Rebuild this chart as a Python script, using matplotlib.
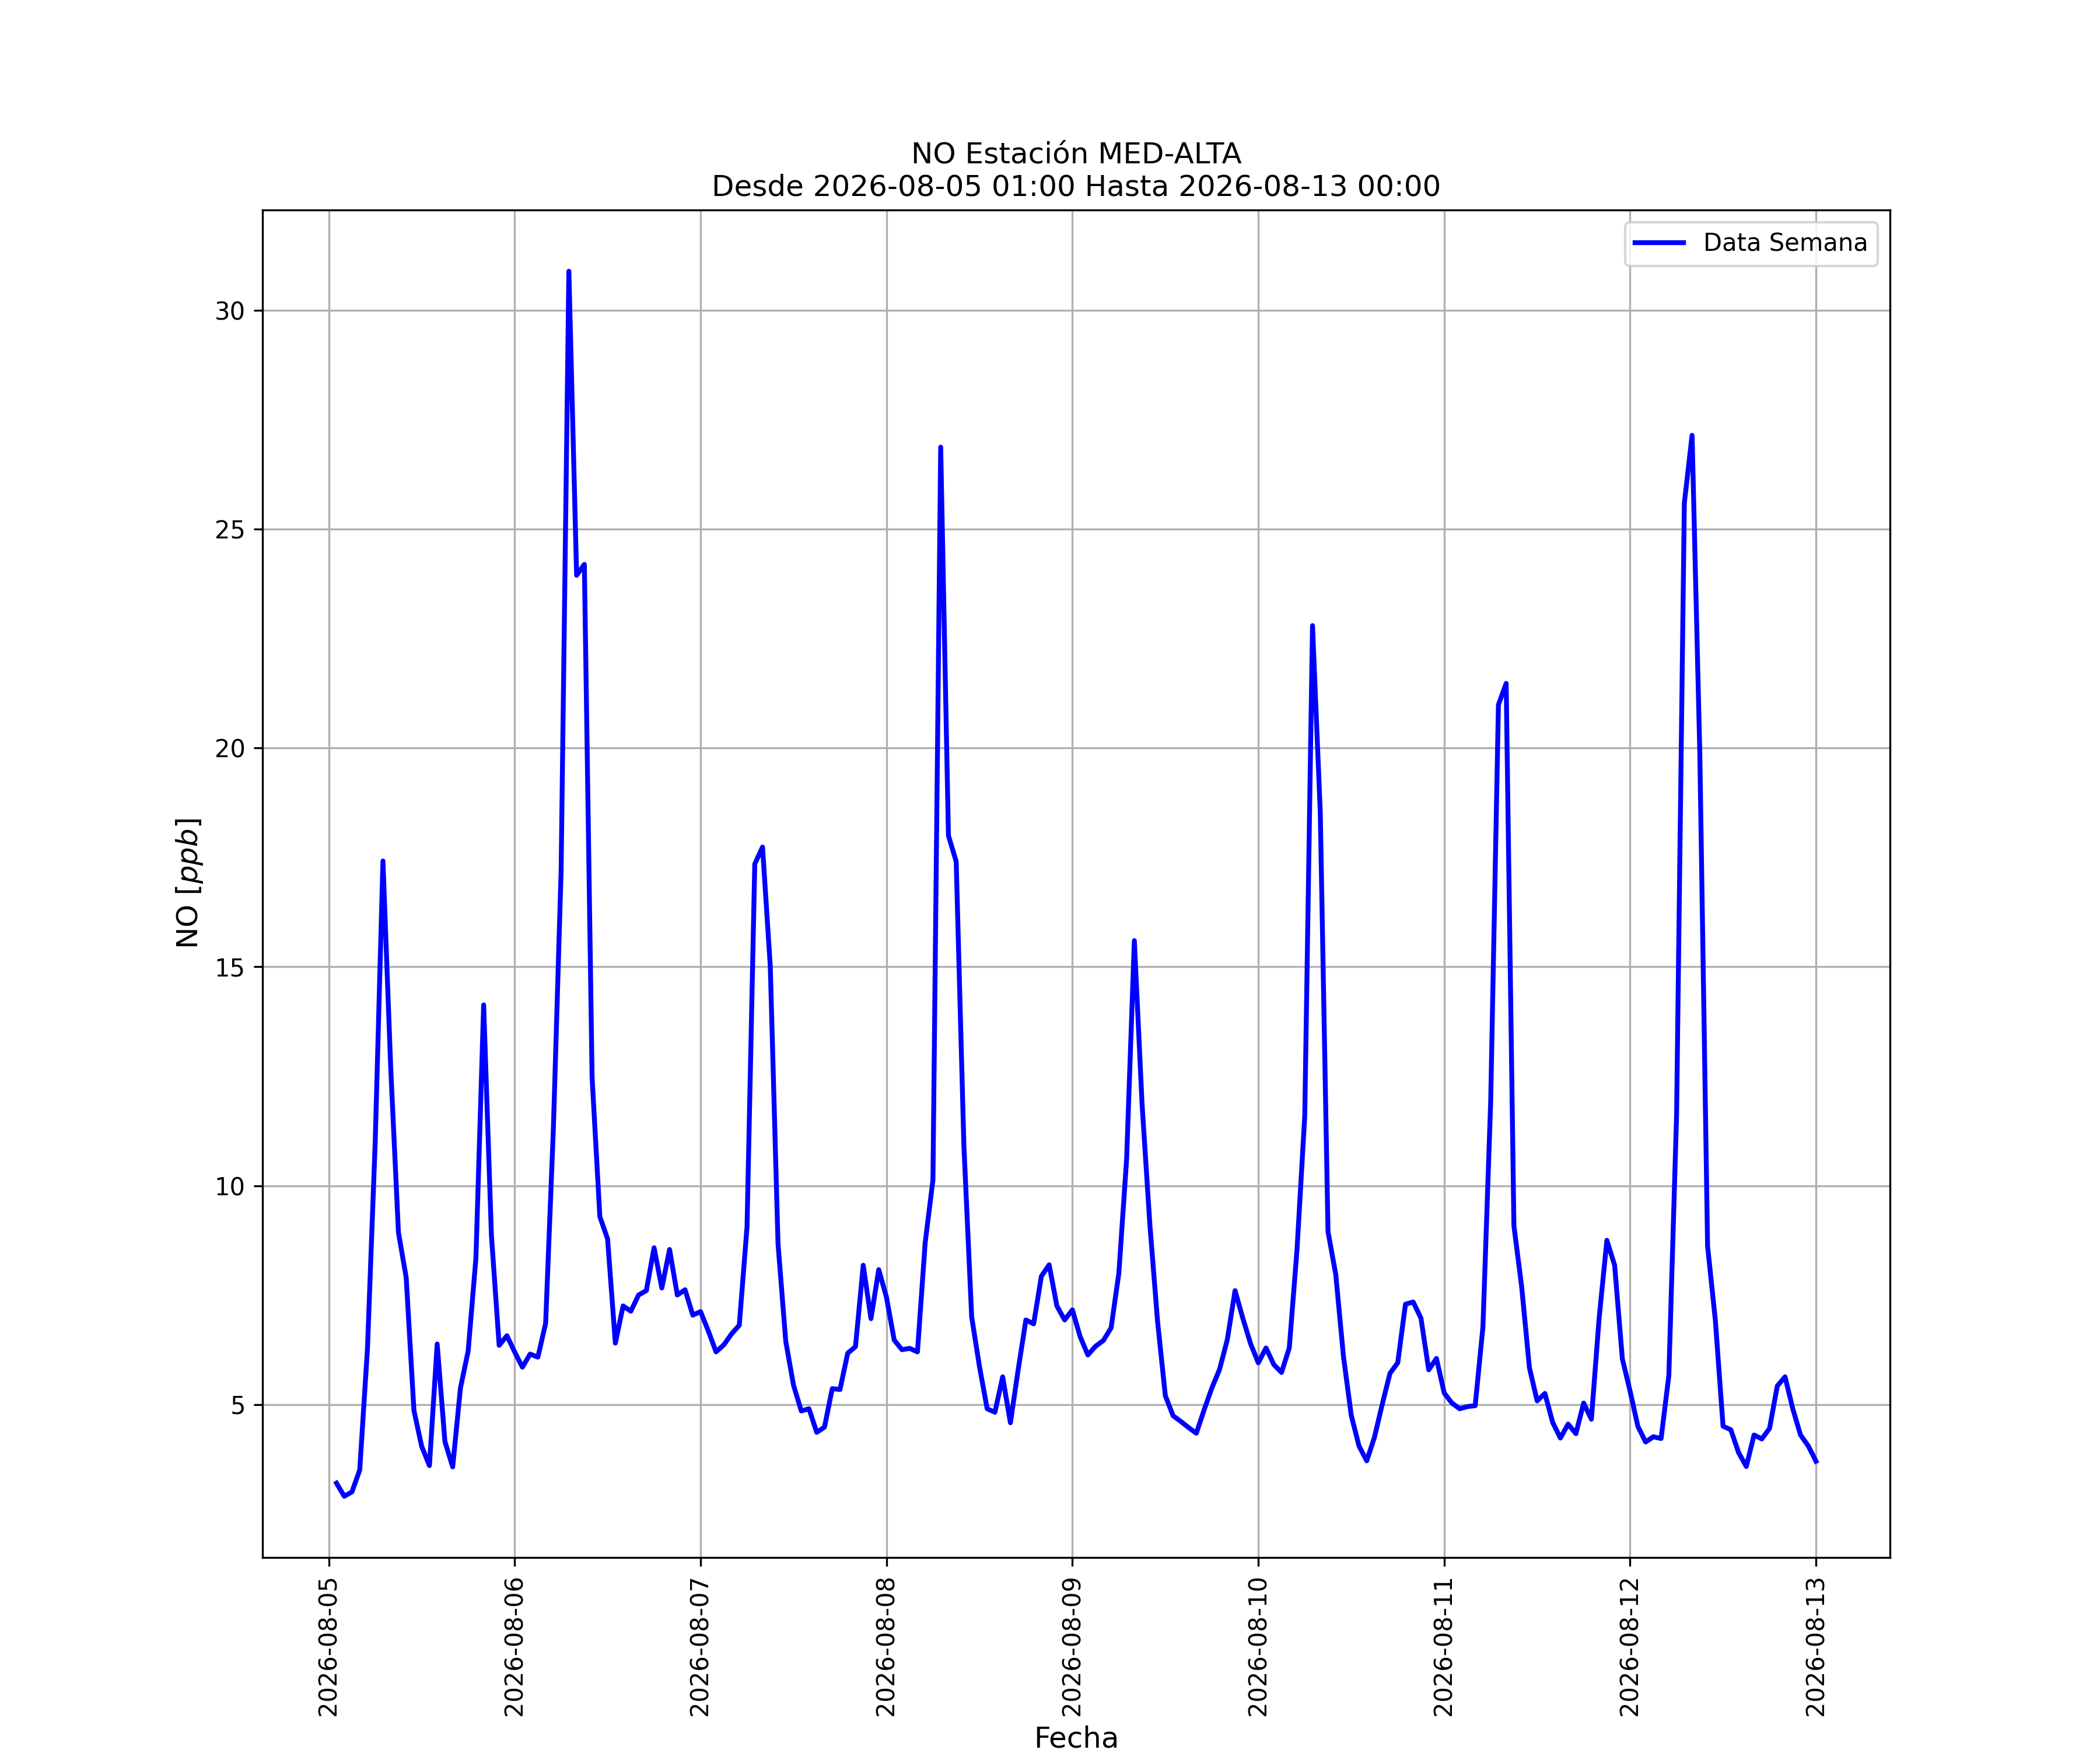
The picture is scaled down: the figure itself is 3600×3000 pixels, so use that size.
import matplotlib
matplotlib.use("Agg")
import matplotlib.pyplot as plt
import matplotlib.dates as mdates
import pandas as pd
import numpy as np

start = "2026-08-05 01:00"
n_hours = 192

day1 = [3.2, 2.9, 3.0, 3.5, 6.27, 11.0, 17.42, 12.7, 8.93, 7.9, 4.86, 4.04,
        3.6, 6.38, 4.15, 3.57, 5.37, 6.22, 8.34, 14.13, 8.87, 6.35, 6.57, 6.2]
day2 = [5.85, 6.15, 6.08, 6.85, 11.3, 17.2, 30.9, 23.95, 24.2, 12.47, 9.29, 8.78,
        6.4, 7.25, 7.13, 7.5, 7.6, 8.58, 7.66, 8.54, 7.5, 7.62, 7.04, 7.12]
day3 = [6.68, 6.2, 6.36, 6.61, 6.81, 9.06, 17.35, 17.74, 15.02, 8.67, 6.44, 5.44,
        4.85, 4.9, 4.36, 4.48, 5.36, 5.34, 6.17, 6.32, 8.18, 6.96, 8.08, 7.45]
day4 = [6.47, 6.25, 6.28, 6.2, 8.7, 10.13, 26.88, 18.0, 17.41, 10.89, 7.0, 5.87,
        4.9, 4.82, 5.63, 4.58, 5.79, 6.93, 6.84, 7.93, 8.19, 7.25, 6.93, 7.16]
day5 = [6.55, 6.13, 6.33, 6.46, 6.75, 8.0, 10.6, 15.6, 11.85, 9.12, 6.89, 5.2,
        4.74, 4.61, 4.47, 4.34, 4.87, 5.37, 5.8, 6.48, 7.6, 6.97, 6.39, 5.95]
day6 = [6.29, 5.91, 5.73, 6.29, 8.54, 11.6, 22.8, 18.54, 8.95, 7.97, 6.09, 4.75,
        4.05, 3.71, 4.25, 5.0, 5.71, 5.95, 7.29, 7.34, 6.97, 5.79, 6.05, 5.26]
day7 = [5.03, 4.9, 4.95, 4.97, 6.77, 11.91, 20.99, 21.48, 9.08, 7.69, 5.84, 5.08,
        5.25, 4.59, 4.23, 4.55, 4.33, 5.03, 4.66, 6.97, 8.75, 8.18, 6.04, 5.3]
day8 = [4.5, 4.14, 4.26, 4.22, 5.66, 11.62, 25.6, 27.15, 19.87, 8.62, 6.93, 4.5,
        4.42, 3.9, 3.58, 4.3, 4.21, 4.45, 5.42, 5.63, 4.9, 4.3, 4.05, 3.7]

values = day1 + day2 + day3 + day4 + day5 + day6 + day7 + day8
dates = pd.date_range(start, periods=n_hours, freq="h")

title = "NO Estación MED-ALTA\nDesde 2026-08-05 01:00 Hasta 2026-08-13 00:00"

fig, ax = plt.subplots(figsize=(12, 10), dpi=300)
ax.plot(dates, values, color="blue", linewidth=2, label="Data Semana")
ax.set_title(title, fontsize=12)
ax.set_xlabel("Fecha", fontsize=12)
ax.set_ylabel("NO [$ppb$]", fontsize=12)
ax.xaxis.set_major_locator(mdates.DayLocator())
ax.xaxis.set_major_formatter(mdates.DateFormatter("%Y-%m-%d"))
plt.setp(ax.get_xticklabels(), rotation=90)
ax.grid(True)
ax.legend(loc="upper right")
fig.savefig("out.png", dpi=300)
